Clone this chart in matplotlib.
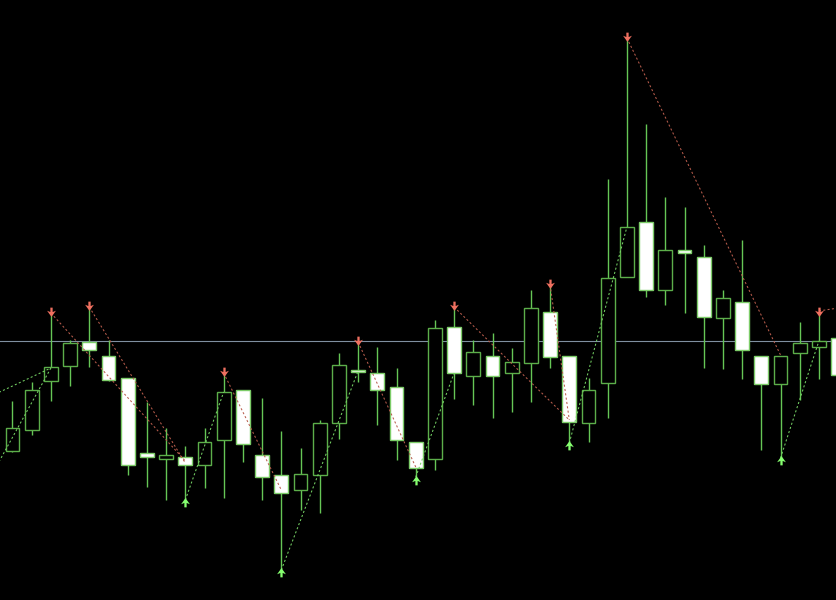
import matplotlib
matplotlib.use("Agg")
import matplotlib.pyplot as plt
from matplotlib.patches import Rectangle
from matplotlib.path import Path

# --- OHLC data (one bar per candle, left to right) ---
opens = [1.3149, 1.3170, 1.3219, 1.3234, 1.3258, 1.3244, 1.3222, 1.3147, 1.3141, 1.3143,
         1.3135, 1.3160, 1.3210, 1.3145, 1.3125, 1.3110, 1.3125, 1.3177, 1.3230, 1.3227,
         1.3213, 1.3158, 1.3141, 1.3273, 1.3224, 1.3244, 1.3227, 1.3237, 1.3288, 1.3244,
         1.3177, 1.3217, 1.3323, 1.3378, 1.3310, 1.3350, 1.3343, 1.3282, 1.3298, 1.3244,
         1.3216, 1.3247, 1.3253, 1.3262]
highs = [1.3199, 1.3218, 1.3287, 1.3260, 1.3293, 1.3260, 1.3222, 1.3198, 1.3172, 1.3154,
         1.3172, 1.3227, 1.3210, 1.3202, 1.3169, 1.3152, 1.3180, 1.3247, 1.3258, 1.3253,
         1.3232, 1.3158, 1.3280, 1.3293, 1.3260, 1.3267, 1.3252, 1.3310, 1.3315, 1.3244,
         1.3222, 1.3421, 1.3562, 1.3476, 1.3403, 1.3393, 1.3355, 1.3310, 1.3360, 1.3244,
         1.3244, 1.3278, 1.3287, 1.3262]
lows = [1.3148, 1.3165, 1.3199, 1.3214, 1.3233, 1.3219, 1.3125, 1.3113, 1.3100, 1.3100,
        1.3112, 1.3102, 1.3138, 1.3100, 1.3030, 1.3090, 1.3087, 1.3161, 1.3218, 1.3175,
        1.3140, 1.3122, 1.3130, 1.3201, 1.3195, 1.3182, 1.3188, 1.3198, 1.3232, 1.3157,
        1.3158, 1.3182, 1.3323, 1.3303, 1.3295, 1.3287, 1.3232, 1.3231, 1.3221, 1.3150,
        1.3142, 1.3200, 1.3221, 1.3225]
closes = [1.3172, 1.3210, 1.3233, 1.3257, 1.3250, 1.3220, 1.3135, 1.3143, 1.3145, 1.3135,
          1.3158, 1.3208, 1.3156, 1.3123, 1.3107, 1.3126, 1.3177, 1.3235, 1.3228, 1.3210,
          1.3160, 1.3132, 1.3272, 1.3227, 1.3248, 1.3224, 1.3238, 1.3292, 1.3243, 1.3178,
          1.3210, 1.3322, 1.3373, 1.3310, 1.3350, 1.3347, 1.3283, 1.3302, 1.3250, 1.3216,
          1.3244, 1.3257, 1.3259, 1.3225]

bid_price = 1.3259

# swing markers (bar index)
swing_highs = [2, 4, 11, 18, 23, 28, 32, 42]
swing_lows = [9, 14, 21, 29, 40]

# zigzag legs: (bar from, price from, bar to, price to)
down_legs = [(2, 1.3287, 9, 1.3139), (4, 1.3293, 9, 1.3137), (11, 1.3227, 14, 1.3110),
             (18, 1.3258, 21, 1.3133), (23, 1.3293, 29, 1.3180), (28, 1.3315, 29, 1.3180),
             (32, 1.3562, 40, 1.3245), (42, 1.3289, 44, 1.3295)]
up_legs = [(-1, 1.3128, 2, 1.3232), (-4, 1.3178, 2, 1.3232), (9, 1.3100, 11, 1.3208),
           (14, 1.3030, 18, 1.3229), (21, 1.3123, 23, 1.3227), (29, 1.3157, 32, 1.3373),
           (40, 1.3142, 42, 1.3259)]

# --- colours ---
bg = "black"
wick_col = "#66c656"
bull_edge = "#5cae4a"
bear_edge = "#7ccc68"
down_col = "#b85c4c"
up_col = "#74d064"
arrow_dn = "#f07060"
arrow_up = "#86ff70"
bid_col = "#7f8fa0"

# arrow marker (points down; flipped for the up arrow)
dn_verts = [(-0.13, 0.55), (0.13, 0.55), (0.13, 0.05), (0.5, 0.2), (0.0, -0.5),
            (-0.5, 0.2), (-0.13, 0.05), (-0.13, 0.55)]
dn_arrow = Path(dn_verts, closed=True)
up_arrow = Path([(x, -y) for x, y in dn_verts], closed=True)

fig = plt.figure(figsize=(8.36, 6), dpi=100, facecolor=bg)
ax = fig.add_axes([0, 0, 1, 1])
ax.set_facecolor(bg)

body_w = 0.72
for i in range(len(opens)):
    o, h, l, c = opens[i], highs[i], lows[i], closes[i]
    ax.vlines(i, l, h, color=wick_col, lw=1, zorder=2)
    bull = c >= o
    ax.add_patch(Rectangle((i - body_w / 2, min(o, c)), body_w, max(abs(c - o), 0.00003),
                           facecolor=bg if bull else "white",
                           edgecolor=bull_edge if bull else bear_edge,
                           lw=1, zorder=3))

ax.axhline(bid_price, color=bid_col, lw=0.8, zorder=1)

# zigzag lines
for x0, y0, x1, y1 in down_legs:
    ax.plot([x0, x1], [y0, y1], color=down_col, lw=0.75, ls=(0, (2, 2.2)), zorder=4)
for x0, y0, x1, y1 in up_legs:
    ax.plot([x0, x1], [y0, y1], color=up_col, lw=0.75, ls=(0, (2, 2.2)), zorder=4)

# arrows at swing points
ax.plot(swing_highs, [highs[i] + 0.0001 for i in swing_highs], ls="none",
        marker=dn_arrow, markersize=7, color=arrow_dn, mew=0, zorder=5)
ax.plot(swing_lows, [lows[i] - 0.0002 for i in swing_lows], ls="none",
        marker=up_arrow, markersize=7, color=arrow_up, mew=0, zorder=5)

ax.set_xlim(-0.651, 42.89)
ax.set_ylim(1.3000, 1.3600)
ax.axis("off")

fig.savefig("out.png", dpi=100, facecolor=bg)
